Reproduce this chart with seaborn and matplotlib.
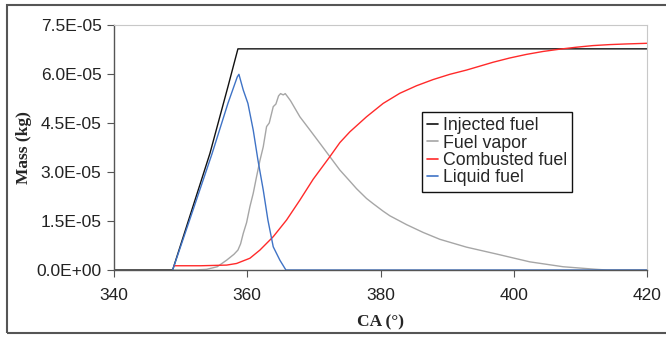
import numpy as np
import pandas as pd
import matplotlib
matplotlib.use("Agg")
import matplotlib.pyplot as plt
import seaborn as sns
from matplotlib.patches import Rectangle
from matplotlib.ticker import FuncFormatter

# Mass values in units of 1E-06 kg
injected_ca = [340, 348.8, 351.2, 354.4, 357.1, 358.6, 420]
injected_m = [0, 0, 15.3, 35.7, 56.1, 67.7, 67.7]

vapor_ca = [349, 352, 353.9, 355.5, 356.9, 358.0, 358.6, 359.0, 359.4, 359.9, 360.4,
            360.9, 361.4, 361.9, 362.4, 362.9, 363.3, 363.9, 364.3, 364.7, 365.0,
            365.4, 365.7, 366.0, 366.5, 367.9, 369.5, 370.9, 372.4, 373.9, 375.4,
            376.4, 377.9, 378.9, 380.4, 381.4, 383.9, 386.4, 388.9, 392.9, 397.4,
            402.4, 407.4, 412.4, 414, 420]
vapor_m = [0, 0, 0.2, 1.0, 3.0, 4.8, 6.1, 8.0, 11.2, 14.5, 19.4,
           23.5, 28.6, 33.5, 37.7, 43.9, 45.0, 50.0, 50.8, 53.3, 54.0,
           53.6, 54.0, 53.2, 51.8, 46.9, 42.6, 38.8, 34.7, 30.6, 27.2,
           24.9, 21.9, 20.3, 18.0, 16.6, 13.9, 11.5, 9.4, 7.0, 4.9,
           2.5, 1.0, 0.2, 0, 0]

combusted_ca = [349.0, 353.0, 356.9, 358.4, 360.4, 361.9, 363.9, 365.9, 367.9, 369.9,
                372.4, 373.9, 375.4, 377.9, 380.4, 382.9, 385.4, 387.9, 390.4,
                392.9, 394.9, 396.9, 399.4, 401.9, 404.4, 406.9, 409.4, 411.9,
                414.4, 416.9, 420]
combusted_m = [1.3, 1.3, 1.5, 2.0, 3.6, 6.1, 10.2, 15.3, 21.4, 27.8,
               34.7, 39.0, 42.3, 46.9, 51.0, 54.1, 56.4, 58.3, 59.9,
               61.2, 62.4, 63.6, 64.9, 66.0, 66.9, 67.6, 68.2, 68.7,
               69.0, 69.2, 69.4]

liquid_ca = [348.8, 351.3, 354.7, 357.1, 358.5, 358.75, 359.4, 360.1, 360.9, 361.6,
             362.4, 363.1, 363.9, 364.9, 365.8, 420]
liquid_m = [0, 15.0, 35.5, 51.0, 59.1, 59.9, 55.1, 51.0, 42.8, 33.7,
            24.5, 15.3, 7.1, 3.0, 0, 0]

series_names = ["Injected fuel", "Fuel vapor", "Combusted fuel", "Liquid fuel"]
series_colors = ["#111111", "#a6a6a6", "#ff2a2a", "#3f73c6"]
x_ticks = [340, 360, 380, 400, 420]
y_ticks = [0, 1.5e-5, 3.0e-5, 4.5e-5, 6.0e-5, 7.5e-5]

frames = []
for name, ca, m in zip(series_names,
                       [injected_ca, vapor_ca, combusted_ca, liquid_ca],
                       [injected_m, vapor_m, combusted_m, liquid_m]):
    frames.append(pd.DataFrame({"CA": ca, "Mass": np.array(m) * 1e-6, "Series": name}))
df = pd.concat(frames, ignore_index=True)

sns.set_style("white")
plt.rcParams["font.family"] = ["Liberation Sans", "DejaVu Sans"]

fig = plt.figure(figsize=(6.66, 3.38), dpi=100)
ax = fig.add_axes([114 / 666, 1 - 270 / 338, 533 / 666, 245 / 338])

sns.lineplot(data=df, x="CA", y="Mass", hue="Series", hue_order=series_names,
             palette=dict(zip(series_names, series_colors)), estimator=None,
             sort=False, linewidth=1.0, ax=ax)

ax.set_xlim(340, 420)
ax.set_ylim(0, 7.5e-5)
ax.set_xticks(x_ticks)
ax.set_yticks(y_ticks)
ax.yaxis.set_major_formatter(FuncFormatter(lambda v, p: "{:.1E}".format(v)))
ax.tick_params(axis="both", labelsize=12.5, labelcolor="#222222", color="#555555",
               length=5, width=0.8, direction="out", bottom=True, left=True)
ax.tick_params(axis="x", pad=8)
ax.tick_params(axis="y", pad=4)

for s in ["left", "bottom"]:
    ax.spines[s].set_color("#555555")
    ax.spines[s].set_linewidth(1.0)
for s in ["top", "right"]:
    ax.spines[s].set_color("#c8c8c8")
    ax.spines[s].set_linewidth(0.8)

ax.set_xlabel("CA (°)", fontsize=12.5, fontweight="bold",
              family=["Liberation Serif", "DejaVu Serif"], labelpad=8)
ax.set_ylabel("Mass (kg)", fontsize=12.5, fontweight="bold",
              family=["Liberation Serif", "DejaVu Serif"], labelpad=3)

leg = ax.legend(loc="upper left", bbox_to_anchor=(0.578, 0.645), borderaxespad=0,
                fontsize=12.8, handlelength=0.6, handletextpad=0.25, labelspacing=0.02,
                borderpad=0.3, fancybox=False, framealpha=1, edgecolor="#111111")
leg.get_frame().set_linewidth(1.0)
for line in leg.get_lines():
    line.set_linewidth(1.2)

# outer frame around the chart
fig.patches.append(Rectangle((7 / 666, 5 / 338), 1.0, 328 / 338, transform=fig.transFigure,
                             fill=False, edgecolor="#555555", linewidth=1.5))

fig.savefig("out.png", dpi=100)
